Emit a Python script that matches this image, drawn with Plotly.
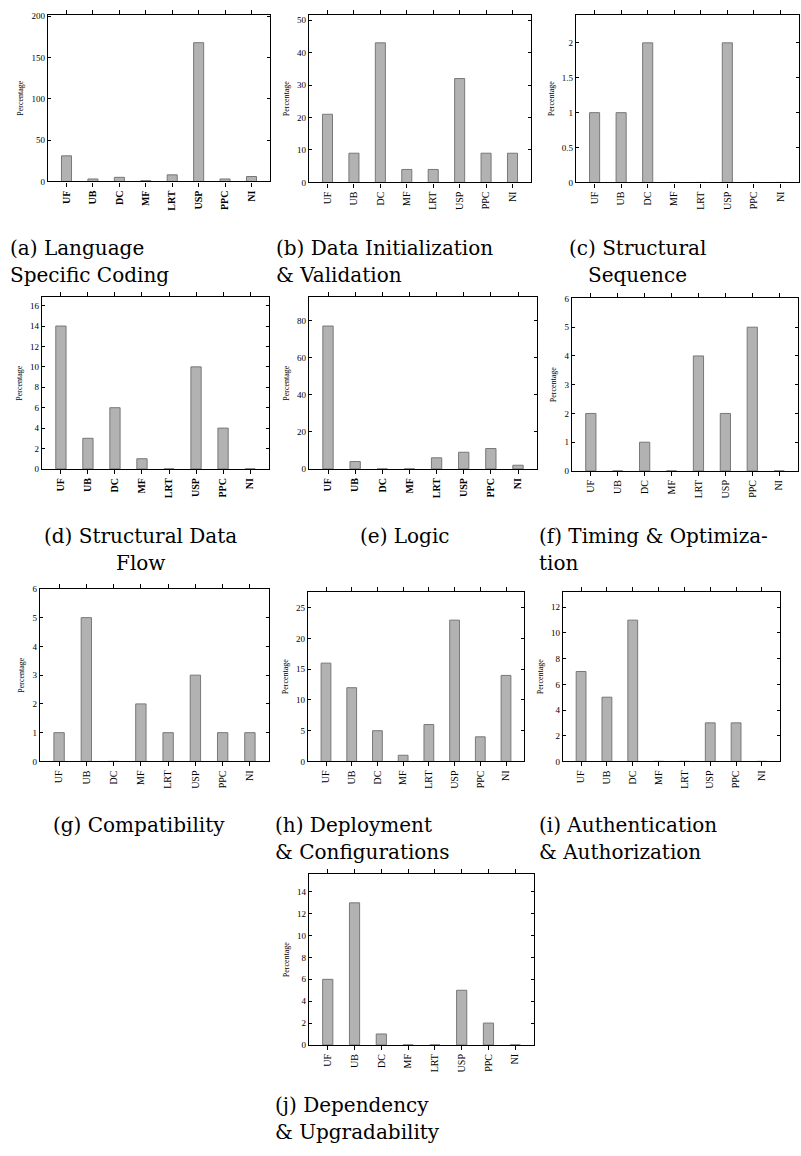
import plotly.graph_objects as go

W, H = 801, 1156

categories = ["UF", "UB", "DC", "MF", "LRT", "USP", "PPC", "NI"]

vals_a = [31, 3, 5, 1, 8, 168, 3, 6]
vals_b = [21, 9, 43, 4, 4, 32, 9, 9]
vals_c = [1, 1, 2, 0, 0, 2, 0, 0]
vals_d = [14, 3, 6, 1, 0, 10, 4, 0]
vals_e = [77, 4, 0, 0, 6, 9, 11, 2]
vals_f = [2, 0, 1, 0, 4, 2, 5, 0]
vals_g = [1, 5, 0, 2, 1, 3, 1, 1]
vals_h = [16, 12, 5, 1, 6, 23, 4, 14]
vals_i = [7, 5, 11, 0, 0, 3, 3, 0]
vals_j = [6, 13, 1, 0, 0, 5, 2, 0]

captions_a = ["(a) Language", "Specific Coding"]
captions_b = ["(b) Data Initialization", "& Validation"]
captions_c = ["(c) Structural", "Sequence"]
captions_d = ["(d) Structural Data", "Flow"]
captions_e = ["(e) Logic"]
captions_f = ["(f) Timing & Optimiza-", "tion"]
captions_g = ["(g) Compatibility"]
captions_h = ["(h) Deployment", "& Configurations"]
captions_i = ["(i) Authentication", "& Authorization"]
captions_j = ["(j) Dependency", "& Upgradability"]

y_title = "Percentage"

# layout: (values, dtick, bold, box left, right, top, bottom, caption lines, caption x, anchor, caption y)
panels = [
    (vals_a, 50, True, 48, 270, 10, 178, captions_a, 8, "left", 245),
    (vals_b, 10, False, 309, 531, 10, 179, captions_b, 274, "left", 245),
    (vals_c, 0.5, False, 576, 799, 10, 179, captions_c, 637, "center", 245),
    (vals_d, 2, True, 42, 269, 295, 468, captions_d, 140, "center", 536),
    (vals_e, 20, True, 309, 537, 295, 468, captions_e, 405, "center", 536),
    (vals_f, 1, False, 572, 798, 296, 470, captions_f, 537, "left", 536),
    (vals_g, 1, False, 40, 269, 589, 763, captions_g, 139, "center", 827),
    (vals_h, 5, False, 308, 524, 592, 763, captions_h, 273, "left", 827),
    (vals_i, 2, False, 563, 780, 592, 763, captions_i, 537, "left", 827),
    (vals_j, 2, False, 309, 534, 877, 1049, captions_j, 273, "left", 1110),
]

fig = go.Figure()
annotations = []
SERIF = "Liberation Serif"
CAPFONT = "DejaVu Serif"

for k, (vals, dtick, bold, l, r, t, b, caps, cx, anchor, cy) in enumerate(panels):
    n = "" if k == 0 else str(k + 1)
    fig.add_trace(go.Bar(
        x=categories, y=vals,
        xaxis="x" + n, yaxis="y" + n,
        width=0.38,
        marker=dict(color="rgb(178,178,178)", line=dict(color="rgb(120,120,120)", width=1)),
        showlegend=False,
    ))
    ymax = max(vals) * 1.2
    tickfont_x = dict(family=SERIF, size=10, color="black", weight="bold" if bold else "normal")
    fig.layout["xaxis" + n] = dict(
        domain=[l / W, r / W], anchor="y" + n,
        type="category", range=[-0.7, 7.7],
        showline=True, linecolor="black", linewidth=1.2, mirror="ticks",
        ticks="outside", ticklen=4, tickcolor="black", tickwidth=0.8,
        tickangle=-90, tickfont=tickfont_x,
        showgrid=False, zeroline=False, fixedrange=True,
    )
    fig.layout["yaxis" + n] = dict(
        domain=[1 - b / H, 1 - t / H], anchor="x" + n,
        range=[0, ymax], dtick=dtick, tick0=0,
        showline=True, linecolor="black", linewidth=1.2, mirror="ticks",
        ticks="inside", ticklen=3, tickcolor="black", tickwidth=0.8,
        tickfont=dict(family=SERIF, size=9, color="black"),
        showgrid=False, zeroline=False,
        title=dict(text=y_title, font=dict(family=SERIF, size=8, color="black"), standoff=6),
    )
    for li, line in enumerate(caps):
        annotations.append(dict(
            text=line, xref="paper", yref="paper",
            x=cx / W, y=1 - (cy + 27 * li) / H,
            xanchor=anchor, yanchor="middle", showarrow=False,
            font=dict(family=CAPFONT, size=20, color="black"),
        ))

fig.update_layout(
    width=W, height=H,
    margin=dict(l=0, r=0, t=0, b=0),
    paper_bgcolor="white", plot_bgcolor="white",
    annotations=annotations,
    bargap=0.6,
)

fig.write_html("out.html")
